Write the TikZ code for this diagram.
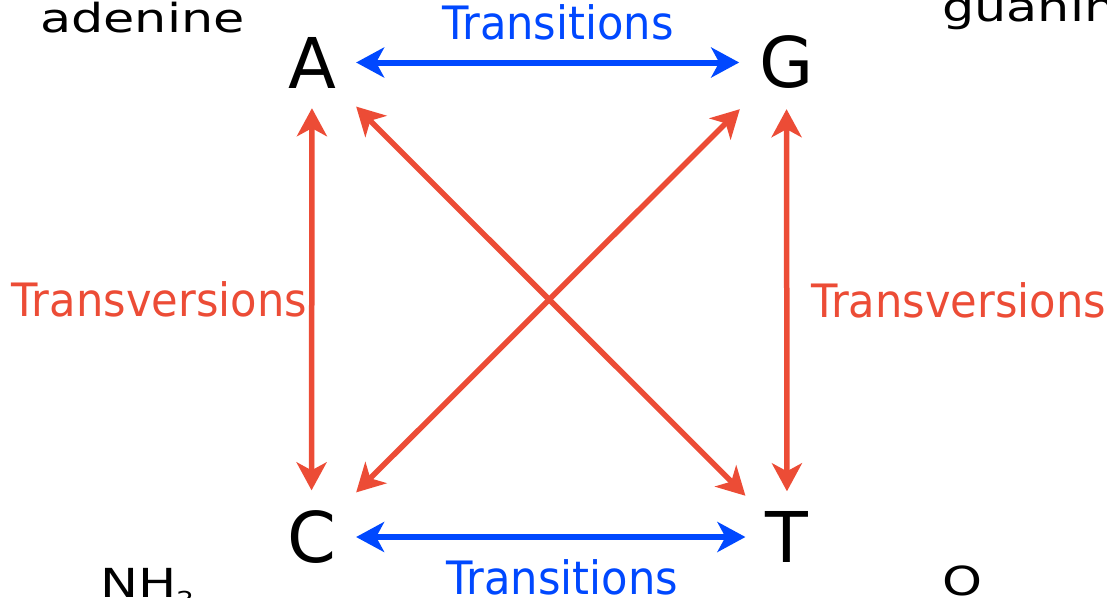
\documentclass[tikz,border=0pt]{standalone}
\usepackage{fontspec}
\usetikzlibrary{arrows.meta}
\newfontfamily\basefont{DejaVu Sans}
\newfontfamily\labelfont[FakeStretch=0.94]{DejaVu Sans}
\newfontfamily\chemfont[FakeStretch=1.27]{DejaVu Sans}
\definecolor{transblue}{RGB}{0,72,255}
\definecolor{transred}{RGB}{236,76,54}
\begin{document}
\begin{tikzpicture}[x=1pt,y=-1pt]
      \tikzset{base/.style={inner sep=20pt, font=\basefont\fontsize{70}{84}\selectfont},
               chem/.style={inner sep=0pt, anchor=base west, font=\chemfont\fontsize{40}{48}\selectfont},
               lbl/.style={inner sep=0pt, font=\labelfont\fontsize{46}{55}\selectfont},
               transition/.style={transblue, line width=6pt, {Stealth[length=28pt, width=30pt, inset=8pt]}-{Stealth[length=28pt, width=30pt, inset=8pt]}},
               transversion/.style={transred, line width=5.5pt, {Stealth[length=28pt, width=30pt, inset=8pt]}-{Stealth[length=28pt, width=30pt, inset=8pt]}}}
      \useasboundingbox (0,0) rectangle (1107,597);
      \clip (0,0) rectangle (1107,597);
%% Bases
      	\node[base] (A) at (312,62.5) {A};
      	\node[base] (G) at (786.5,62.5) {G};
      	\node[base] (C) at (311.5,537) {C};
      	\node[base] (T) at (787,537) {T};
%% Molecule names (cut off)
      	\node[chem] (adenine) at (40,32) {adenine};
      	\node[chem] (guanine) at (942,21) {guanine};
      	\node[chem] (amine) at (100,597) {NH\raisebox{-10pt}{\fontsize{22}{22}\selectfont 2}};
      	\node[chem] (oxygen) at (942,595) {O};
%Edges
	%Transitions
		\path [transition] (A) edge node[lbl, pos=0.527, above=19.5pt] {Transitions} (G);
		\path [transition] (C) edge node[lbl, pos=0.529, below=19.5pt] {Transitions} (T);
	%Transversions
		\path [transversion] (A) edge node[lbl, midway, left=2pt] {Transversions} (C);
		\path [transversion] (G) edge node[lbl, midway, right=21.5pt] {Transversions} (T);
		\path [transversion] (A) edge (T);
		\path [transversion] (C) edge (G);
\end{tikzpicture}
\end{document}
